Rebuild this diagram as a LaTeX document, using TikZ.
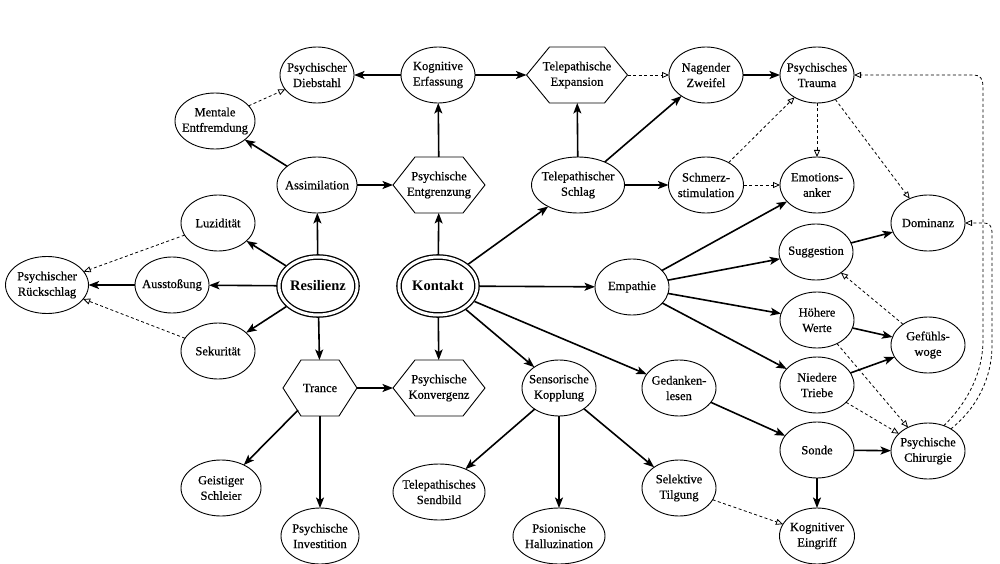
\documentclass[tikz,border=0pt]{standalone}
\usepackage{fontspec}
\setmainfont{Liberation Serif}
\newfontfamily\tms[FakeBold=0.5]{Liberation Serif}
\newfontfamily\tmsb{Liberation Serif Bold}
\usetikzlibrary{shapes.geometric,arrows.meta,calc}
\newcommand\dfont{\tms\fontsize{12.5}{15.5}\selectfont}
\newcommand\hexout[2]{\draw[line width=0.9pt] ([xshift=#2]#1.north west) -- ([xshift=-#2]#1.north east) -- (#1.east) -- ([xshift=-#2]#1.south east) -- ([xshift=#2]#1.south west) -- (#1.west) -- cycle;}
\tikzset{
  nd/.style={draw, line width=0.9pt, font=\dfont, align=center, inner sep=-40pt, outer sep=0pt},
  ell/.style={nd, ellipse, minimum width=74pt, minimum height=56pt},
  hexa/.style={nd, draw=none, rectangle, minimum height=56pt},
  hub/.style={nd, ellipse, double, line width=1.3pt, double distance=3pt,
    minimum width=78pt, minimum height=58pt, font=\tmsb\fontsize{14.5}{16}\selectfont, outer sep=2.8pt},
  sol/.style={-{Stealth[length=10.5pt,width=8pt,inset=2.5pt]}, line width=1.6pt},
  dsh/.style={-{Triangle[open,length=7pt,width=6pt]}, line width=0.8pt, dash pattern=on 3pt off 2.5pt},
}
\begin{document}
\begin{tikzpicture}[x=1pt,y=-1pt]
\useasboundingbox (0,0) rectangle (1000,564);
% nodes
\node[ell] (pd) at (317,75) {Psychischer\\Diebstahl};
\node[ell] (ke) at (438,75) {Kognitive\\Erfassung};
\node[hexa, minimum width=101pt] (tex) at (577,75) {Telepathische\\Expansion};
\node[ell] (nz) at (706,75) {Nagender\\Zweifel};
\node[ell] (pt) at (817,75) {Psychisches\\Trauma};
\node[ell, minimum width=80pt] (me) at (215,121) {Mentale\\Entfremdung};
\node[ell, minimum width=80pt] (as) at (317,185) {Assimilation};
\node[hexa, minimum width=92pt] (pe) at (439,185) {Psychische\\Entgrenzung};
\node[ell, minimum width=93pt] (ts) at (578,185) {Telepathischer\\Schlag};
\node[ell, minimum width=75pt] (ss) at (706,185) {Schmerz-\\stimulation};
\node[ell] (ea) at (817,185) {Emotions-\\anker};
\node[ell] (lu) at (218,223) {Luzidität};
\node[ell] (dom) at (928,223) {Dominanz};
\node[ell] (sug) at (816,252) {Suggestion};
\node[ell, minimum width=83pt, minimum height=57pt] (pr) at (47,285) {Psychischer\\Rückschlag};
\node[ell] (au) at (172,285) {Ausstoßung};
\node[hub] (res) at (318,286) {Resilienz};
\node[hub] (kon) at (438,286) {Kontakt};
\node[ell] (emp) at (632,287) {Empathie};
\node[ell] (hw) at (817,320) {Höhere\\Werte};
\node[ell] (gw) at (928,345) {Gefühls-\\woge};
\node[ell] (sek) at (218,351) {Sekurität};
\node[ell] (nt) at (817,385) {Niedere\\Triebe};
\node[hexa, minimum width=74pt] (tr) at (320,388) {Trance};
\node[hexa, minimum width=92pt] (pk) at (439,388) {Psychische\\Konvergenz};
\node[ell] (sk) at (559,388) {Sensorische\\Kopplung};
\node[ell] (gl) at (679,388) {Gedanken-\\lesen};
\node[ell] (so) at (817,450) {Sonde};
\node[ell] (pc) at (928,451) {Psychische\\Chirurgie};
\node[ell, minimum width=80pt] (gs) at (221,488) {Geistiger\\Schleier};
\node[ell, minimum width=92pt] (tsb) at (439,492) {Telepathisches\\Sendbild};
\node[ell] (st) at (679,488) {Selektive\\Tilgung};
\node[ell, minimum width=78pt] (pi) at (320,536) {Psychische\\Investition};
\node[ell, minimum width=92pt] (ph) at (559,536) {Psionische\\Halluzination};
\node[ell, minimum width=75pt] (kei) at (817,536) {Kognitiver\\Eingriff};
% hexagon outlines
\hexout{tex}{23pt}
\hexout{pe}{22pt}
\hexout{tr}{18pt}
\hexout{pk}{22pt}
\coordinate (trgs) at ($(tr.center)!0.2217!(gs.center)$);
% solid edges
\draw[sol] (ke) -- (pd);
\draw[sol] (ke) -- (tex);
\draw[sol] (pe) -- (ke);
\draw[sol] (as) -- (me);
\draw[sol] (as) -- (pe);
\draw[sol] (res) -- (as);
\draw[sol] (res) -- (lu);
\draw[sol] (res) -- (au);
\draw[sol] (res) -- (sek);
\draw[sol] (res) -- (tr);
\draw[sol] (au) -- (pr);
\draw[sol] (kon) -- (pe);
\draw[sol] (kon) -- (ts);
\draw[sol] (kon) -- (emp);
\draw[sol] (kon) -- (pk);
\draw[sol] (kon) -- (sk);
\draw[sol] (kon) -- (gl);
\draw[sol] (ts) -- (tex);
\draw[sol] (ts) -- (nz);
\draw[sol] (ts) -- (ss);
\draw[sol] (nz) -- (pt);
\draw[sol] (emp) -- (ea);
\draw[sol] (emp) -- (sug);
\draw[sol] (emp) -- (hw);
\draw[sol] (emp) -- (nt);
\draw[sol] (sug) -- (dom);
\draw[sol] (hw) -- (gw);
\draw[sol] (nt) -- (gw);
\draw[sol] (tr) -- (pk);
\draw[sol] (trgs) -- (gs);
\draw[sol] (tr) -- (pi);
\draw[sol] (sk) -- (tsb);
\draw[sol] (sk) -- (ph);
\draw[sol] (sk) -- (st);
\draw[sol] (gl) -- (so);
\draw[sol] (so) -- (pc);
\draw[sol] (so) -- (kei);
% dashed edges
\draw[dsh] (me) -- (pd);
\draw[dsh] (lu) -- (pr);
\draw[dsh] (sek) -- (pr);
\draw[dsh] (tex) -- (nz);
\draw[dsh] (ss) -- (pt);
\draw[dsh] (ss) -- (ea);
\draw[dsh] (pt) -- (ea);
\draw[dsh] (pt) -- (dom);
\draw[dsh] (gw) -- (sug);
\draw[dsh] (hw) -- (pc);
\draw[dsh] (nt) -- (pc);
\draw[dsh] (st) -- (kei);
\draw[dsh] (pc.58) .. controls (968,402) and (983,372) .. (983,340) -- (983,86) .. controls (983,79) and (980,75) .. (974,75) -- (pt.east);
\draw[dsh] (pc.44) .. controls (977,408) and (992,378) .. (992,345) -- (992,232) .. controls (992,226) and (989,223) .. (984,223) -- (dom.east);
\end{tikzpicture}
\end{document}
